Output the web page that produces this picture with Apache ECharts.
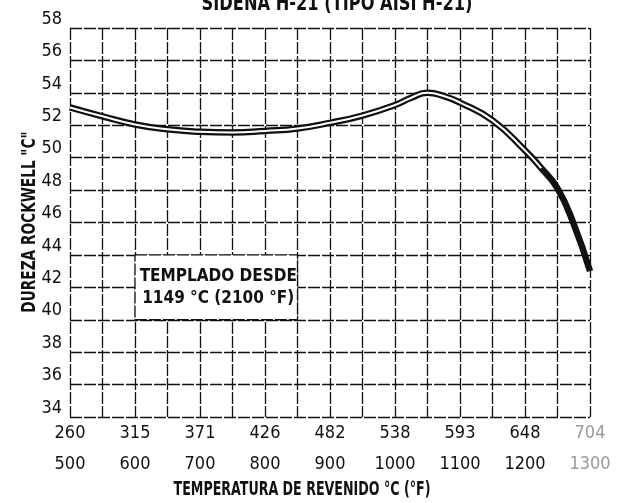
<!DOCTYPE html>
<html>
<head>
<meta charset="utf-8">
<script src="https://cdn.jsdelivr.net/npm/echarts@6/dist/echarts.min.js"></script>
<style>
html,body{margin:0;padding:0;background:#fff;}
#chart{width:642px;height:503px;}
</style>
</head>
<body>
<div id="chart"></div>
<script>
// Tempering temperature (°F) and Rockwell C hardness
var tempF    = [500, 550, 600, 650, 700, 750, 800, 850, 900, 950, 1000, 1025, 1050, 1075, 1100, 1150, 1200, 1225, 1250, 1275, 1300];
var hardness = [53.1, 52.55, 52.05, 51.75, 51.6, 51.55, 51.65, 51.8, 52.15, 52.6, 53.25, 53.7, 54.0, 53.8, 53.4, 52.3, 50.45, 49.35, 48.1, 45.9, 43.0];
// tick labels of the x axis: °F value and its °C equivalent
var fTicks = [500, 600, 700, 800, 900, 1000, 1100, 1200, 1300];
var cTicks = ['260', '315', '371', '426', '482', '538', '593', '648', '704'];
var yTicks = [34, 36, 38, 40, 42, 44, 46, 48, 50, 52, 54, 56, 58];

var FONT = "'Liberation Sans Narrow', 'DejaVu Sans Condensed', sans-serif";
var GRID_LINE = {color: '#111', width: 1.3, type: [12, 2]};

var linePairs = tempF.map(function (f, i) { return [f, hardness[i]]; });
var innerPairs = tempF.map(function (f, i) { return [f, f <= 1225 ? hardness[i] : null]; });

var chart = echarts.init(document.getElementById('chart'), null, {renderer: 'canvas'});
chart.setOption({
  animation: false,
  backgroundColor: '#fff',
  graphic: [
    {
      type: 'text', x: 337, y: 15, scaleX: 0.82, z: 10,
      style: {text: 'SIDENA H-21 (TIPO AISI H-21)', textAlign: 'center', textVerticalAlign: 'bottom',
        font: 'bold 22px ' + FONT, fill: '#111'}
    },
    {
      type: 'text', x: 302, y: 490, scaleX: 0.74, z: 10,
      style: {text: 'TEMPERATURA DE REVENIDO °C (°F)', textAlign: 'center', textVerticalAlign: 'middle',
        font: 'bold 19px ' + FONT, fill: '#111'}
    },
    {
      type: 'text', x: 30, y: 222, rotation: Math.PI / 2, scaleX: 0.8, z: 10,
      style: {text: 'DUREZA ROCKWELL "C"', textAlign: 'center', textVerticalAlign: 'middle',
        font: 'bold 19px ' + FONT, fill: '#111'}
    }
  ],
  grid: {left: 70, right: 52, top: 28, bottom: 86},
  xAxis: {
    type: 'value', min: 500, max: 1300, interval: 50,
    axisLine: {show: false}, axisTick: {show: false},
    splitLine: {show: true, lineStyle: GRID_LINE},
    axisLabel: {
      interval: 1, margin: 1,
      formatter: function (v) {
        var i = fTicks.indexOf(v);
        if (i < 0) return '';
        var st = (i === fTicks.length - 1) ? 'g' : 'n';
        return '{' + st + '|' + cTicks[i] + '}\n{' + st + '|' + fTicks[i] + '}';
      },
      rich: {
        n: {fontFamily: FONT, fontSize: 18, lineHeight: 31, color: '#111'},
        g: {fontFamily: FONT, fontSize: 18, lineHeight: 31, color: '#999'}
      }
    }
  },
  yAxis: {
    type: 'value', min: 34, max: 58, interval: 2,
    axisLine: {show: false}, axisTick: {show: false},
    splitLine: {show: true, lineStyle: GRID_LINE},
    axisLabel: {
      margin: 8, fontFamily: FONT, fontSize: 18, color: '#111',
      verticalAlign: 'bottom', lineHeight: 18,
      formatter: function (v) { return yTicks.indexOf(v) >= 0 ? String(v) : ''; }
    }
  },
  series: [
    {
      type: 'line', data: linePairs, smooth: true, symbol: 'none',
      lineStyle: {color: '#111', width: 6.5},
      z: 3,
      markArea: {
        silent: true,
        itemStyle: {color: '#fff', borderColor: '#111', borderWidth: 1.3, borderType: [12, 2]},
        label: {
          show: true, position: 'inside', offset: [2, 0],
          fontFamily: FONT, fontSize: 17, fontWeight: 'bold', lineHeight: 22, color: '#111',
          formatter: 'TEMPLADO DESDE\n1149 °C (2100 °F)'
        },
        data: [[{xAxis: 600, yAxis: 44}, {xAxis: 850, yAxis: 40}]]
      }
    },
    {
      type: 'line', data: innerPairs, smooth: true, symbol: 'none', connectNulls: false,
      lineStyle: {color: '#fff', width: 2},
      z: 4
    }
  ]
});
</script>
</body>
</html>
